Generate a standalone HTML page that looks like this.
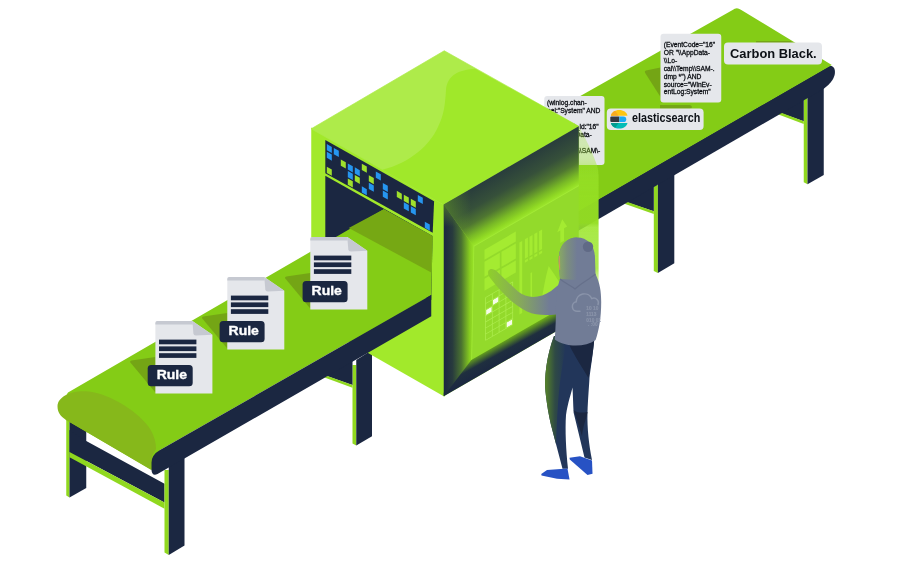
<!DOCTYPE html>
<html><head><meta charset="utf-8"><title>Rule conversion</title>
<style>html,body{margin:0;padding:0;background:#fff}svg{display:block;will-change:transform}</style></head>
<body>
<svg width="921" height="561" viewBox="0 0 921 561">
<rect width="921" height="561" fill="#ffffff"/>
<defs>
<linearGradient id="gLeftBevel" x1="443.75" y1="0" x2="473" y2="0" gradientUnits="userSpaceOnUse">
 <stop offset="0" stop-color="#1b2741"/><stop offset="0.3" stop-color="#283b3d"/><stop offset="0.6" stop-color="#4a7230"/><stop offset="0.88" stop-color="#86cb20"/><stop offset="1" stop-color="#96e026"/>
</linearGradient>
<linearGradient id="gTopBevel" x1="500" y1="172" x2="525.6" y2="216.3" gradientUnits="userSpaceOnUse">
 <stop offset="0" stop-color="#293d3c"/><stop offset="0.35" stop-color="#36503a"/><stop offset="0.6" stop-color="#4f7631"/><stop offset="0.8" stop-color="#78b826"/><stop offset="0.93" stop-color="#90d924"/><stop offset="1" stop-color="#9ce62c"/>
</linearGradient>
<linearGradient id="gLeftBevelY" x1="0" y1="204" x2="0" y2="396" gradientUnits="userSpaceOnUse">
 <stop offset="0" stop-color="#6da51f" stop-opacity="0.55"/><stop offset="0.12" stop-color="#6da51f" stop-opacity="0"/><stop offset="1" stop-color="#6da51f" stop-opacity="0"/>
</linearGradient>
<linearGradient id="gBotBevel" x1="500" y1="365" x2="489" y2="345" gradientUnits="userSpaceOnUse">
 <stop offset="0" stop-color="#1b2741"/><stop offset="0.45" stop-color="#1f2f3f"/><stop offset="0.85" stop-color="#6aa81b"/><stop offset="1" stop-color="#93dc24"/>
</linearGradient>
<linearGradient id="gGlowV" x1="0" y1="126" x2="0" y2="292" gradientUnits="userSpaceOnUse">
 <stop offset="0" stop-color="#a4e834" stop-opacity="0.26"/><stop offset="0.2" stop-color="#a0e830" stop-opacity="0.38"/><stop offset="0.34" stop-color="#98e226" stop-opacity="0.78"/><stop offset="0.43" stop-color="#94de24" stop-opacity="0.97"/><stop offset="0.585" stop-color="#94de24" stop-opacity="0.97"/><stop offset="0.61" stop-color="#9ce62c" stop-opacity="0.88"/><stop offset="0.86" stop-color="#9ce62c" stop-opacity="0.82"/><stop offset="0.93" stop-color="#a0e830" stop-opacity="0.45"/><stop offset="0.985" stop-color="#a3ea35" stop-opacity="0"/>
</linearGradient>
<linearGradient id="gArm" x1="488" y1="0" x2="560" y2="0" gradientUnits="userSpaceOnUse">
 <stop offset="0" stop-color="#8fd02a"/><stop offset="0.45" stop-color="#86a85c"/><stop offset="0.85" stop-color="#717c96"/><stop offset="1" stop-color="#717c96"/>
</linearGradient>
<linearGradient id="gLegGlow" x1="544" y1="0" x2="566" y2="0" gradientUnits="userSpaceOnUse">
 <stop offset="0" stop-color="#5b8a25"/><stop offset="0.5" stop-color="#2f4a45"/><stop offset="1" stop-color="#22365a"/>
</linearGradient>
<linearGradient id="gHood" x1="557" y1="0" x2="577" y2="0" gradientUnits="userSpaceOnUse">
 <stop offset="0" stop-color="#8cb05c"/><stop offset="0.5" stop-color="#7b8e7e"/><stop offset="1" stop-color="#717c96"/>
</linearGradient>
<filter id="blur1" x="-20%" y="-5%" width="140%" height="110%"><feGaussianBlur stdDeviation="0.7"/></filter>
<linearGradient id="gTopBevelX" x1="444" y1="0" x2="579" y2="0" gradientUnits="userSpaceOnUse">
 <stop offset="0" stop-color="#6aa324" stop-opacity="0.55"/><stop offset="0.2" stop-color="#6aa324" stop-opacity="0"/><stop offset="1" stop-color="#6aa324" stop-opacity="0"/>
</linearGradient>
</defs>
<polygon points="803.75,95.00 807.50,95.00 807.50,184.30 803.75,182.30" fill="#90d81f" />
<polygon points="807.50,90.00 823.75,85.00 823.75,175.00 807.50,184.30" fill="#1b2741" />
<polygon points="780.50,111.50 803.75,96.00 803.75,121.25 781.25,113.20" fill="#1b2741" />
<polygon points="781.25,112.80 803.75,121.25 803.75,124.00 778.50,114.50" fill="#90d81f" />
<polygon points="653.80,185.00 657.90,185.00 657.90,273.10 653.80,271.00" fill="#90d81f" />
<polygon points="657.90,180.00 674.30,170.00 674.30,263.30 657.90,273.10" fill="#1b2741" />
<polygon points="626.80,200.50 653.80,184.00 653.80,211.25 627.50,202.50" fill="#1b2741" />
<polygon points="627.50,202.00 653.80,211.25 653.80,214.00 624.50,203.80" fill="#90d81f" />
<path d="M540 232.83 L828.8 66.2 C835.3 64.3,836.8 73,832.6 79.8 C830.4 83.2,827 86.5,823.75 88.75 L540 253.04 Z" fill="#1b2741"/>
<path d="M540 118.8 L732.6 10.1 Q736.6 6.5 740.9 9.8 L831.8 65 L540 233.13 Z" fill="#84cc16"/>
<path d="M646 70.5 L660.5 67.5 L660.5 97 L645.5 73.5 Q644 71 646 70.5Z" fill="#74a515"/>
<path d="M660 105 L690 105 Q694 107 690 108.8 L660 108.8Z" fill="#74a515"/>
<path d="M756 41 L790.5 41 L795 43.6 L756 43.6Z" fill="#74a515"/>
<rect x="544.25" y="96" width="60.25" height="69" rx="3" fill="#e5e7eb"/>
<g font-family="Liberation Sans, sans-serif" font-size="6.70" fill="#0a0d12" stroke="#0a0d12" stroke-width="0.28"><text x="547.00" y="104.70">(winlog.chan-</text><text x="547.00" y="112.70">nel:&quot;System&quot; AND</text></g>
<g font-family="Liberation Sans, sans-serif" font-size="6.7" fill="#0a0d12" stroke="#0a0d12" stroke-width="0.28" text-anchor="end"><text x="598.7" y="128.6">log.event_id:&quot;16&quot;</text><text x="591.8" y="136.7">OR &quot;\\AppData-</text><text x="600.3" y="153.2">\\SAM\-</text></g>
<rect x="660.5" y="33.75" width="60.75" height="68.75" rx="3" fill="#e5e7eb"/>
<g font-family="Liberation Sans, sans-serif" font-size="6.70" fill="#0a0d12" stroke="#0a0d12" stroke-width="0.28"><text x="663.75" y="47.00">(EventCode=&quot;16&quot;</text><text x="663.75" y="54.90">OR &quot;\\AppData-</text><text x="663.75" y="62.80">\\Lo-</text><text x="663.75" y="70.70">cal\\Temp\\SAM-.</text><text x="663.75" y="78.60">dmp *&quot;) AND</text><text x="663.75" y="86.50">source=&quot;WinEv-</text><text x="663.75" y="94.40">entLog:System&quot;</text></g>
<rect x="724" y="42.4" width="98" height="22.1" rx="4" fill="#e5e7eb"/>
<text x="730" y="58.4" font-family="Liberation Sans, sans-serif" font-weight="bold" font-size="13.1" fill="#0c1016" textLength="86.7" lengthAdjust="spacingAndGlyphs">Carbon Black.</text>
<rect x="606.8" y="108.5" width="96.8" height="21.5" rx="4" fill="#e5e7eb"/>
<g>
<path d="M610.9 115.7 C611.6 112.4,615 110.1,619.2 110.1 C623.4 110.1,626.8 112.4,627.5 115.7 Z" fill="#fec514"/>
<path d="M610.9 115.7 C611.4 113.4,613 111.6,615.2 110.8 L618.6 115.7 Z" fill="#f7a922"/>
<path d="M611.4 116.4 H619.4 V122.1 H611.4 Q610.3 122.1 610.3 121 V117.5 Q610.3 116.4 611.4 116.4Z" fill="#343741"/>
<path d="M619.4 116.4 H623.4 A2.85 2.85 0 0 1 623.4 122.1 H619.4Z" fill="#1ba9f5"/>
<path d="M610.9 122.9 C611.6 126.2,615 128.5,619.2 128.5 C623.4 128.5,626.8 126.2,627.5 122.9 Z" fill="#02bcb7"/>
<path d="M610.9 122.9 C611.4 125.2,613 127,615.2 127.8 L618.6 122.9 Z" fill="#019b8f"/>
</g>
<text x="632" y="121.6" font-family="Liberation Sans, sans-serif" font-weight="bold" font-size="12" fill="#0c1016" textLength="68.3" lengthAdjust="spacingAndGlyphs">elasticsearch</text>
<polygon points="66.25,418.00 69.50,420.00 69.50,497.50 66.25,495.60" fill="#90d81f" />
<polygon points="69.50,420.00 86.25,430.00 86.25,488.00 69.50,497.50" fill="#1b2741" />
<polygon points="69.50,430.00 86.25,441.00 164.50,483.75 164.50,502.50 69.50,452.00" fill="#1b2741" />
<polygon points="69.50,452.00 164.50,502.50 164.50,508.80 69.50,457.30" fill="#90d81f" />
<polygon points="164.50,470.00 168.75,470.00 168.75,555.00 164.50,552.50" fill="#90d81f" />
<polygon points="168.75,465.00 184.50,455.00 184.50,545.50 168.75,555.00" fill="#1b2741" />
<polygon points="352.50,365.00 356.25,365.00 356.25,445.50 352.50,443.60" fill="#90d81f" />
<polygon points="356.25,360.00 372.00,350.00 372.00,436.25 356.25,445.50" fill="#1b2741" />
<polygon points="326.80,374.30 352.50,358.00 352.50,385.00 327.50,376.25" fill="#1b2741" />
<polygon points="327.50,376.00 352.50,385.00 352.50,387.80 324.50,377.60" fill="#90d81f" />
<polygon points="311.25,127.60 444.60,203.40 444.60,396.70 311.25,320.50" fill="#a2e92b" />
<polygon points="325.30,140.10 434.10,201.20 432.70,232.70 325.30,173.30" fill="#1b2741" />
<polygon points="325.30,175.75 432.60,236.00 431.25,300.00 325.30,250.00" fill="#1b2741" />
<polygon points="326.80,144.10 331.80,146.90 331.80,153.10 326.80,150.30" fill="#2696f0" />
<polygon points="333.80,148.02 338.80,150.82 338.80,157.02 333.80,154.22" fill="#2696f0" />
<polygon points="326.80,151.65 331.80,154.45 331.80,160.65 326.80,157.85" fill="#2696f0" />
<polygon points="340.80,159.49 345.80,162.29 345.80,168.49 340.80,165.69" fill="#9fe02c" />
<polygon points="326.80,166.75 331.80,169.55 331.80,175.75 326.80,172.95" fill="#9fe02c" />
<polygon points="347.80,163.41 352.80,166.21 352.80,172.41 347.80,169.61" fill="#2696f0" />
<polygon points="347.80,170.96 352.80,173.76 352.80,179.96 347.80,177.16" fill="#2696f0" />
<polygon points="347.80,178.51 352.80,181.31 352.80,187.51 347.80,184.71" fill="#9fe02c" />
<polygon points="354.80,167.33 359.80,170.13 359.80,176.33 354.80,173.53" fill="#2696f0" />
<polygon points="354.80,174.88 359.80,177.68 359.80,183.88 354.80,181.08" fill="#9fe02c" />
<polygon points="361.80,163.70 366.80,166.50 366.80,172.70 361.80,169.90" fill="#9fe02c" />
<polygon points="361.80,186.35 366.80,189.15 366.80,195.35 361.80,192.55" fill="#2696f0" />
<polygon points="368.80,175.17 373.80,177.97 373.80,184.17 368.80,181.37" fill="#9fe02c" />
<polygon points="368.80,182.72 373.80,185.52 373.80,191.72 368.80,188.92" fill="#2696f0" />
<polygon points="375.80,171.54 380.80,174.34 380.80,180.54 375.80,177.74" fill="#2696f0" />
<polygon points="382.80,183.01 387.80,185.81 387.80,192.01 382.80,189.21" fill="#2696f0" />
<polygon points="382.80,190.56 387.80,193.36 387.80,199.56 382.80,196.76" fill="#2696f0" />
<polygon points="396.80,190.85 401.80,193.65 401.80,199.85 396.80,197.05" fill="#9fe02c" />
<polygon points="403.80,194.77 408.80,197.57 408.80,203.77 403.80,200.97" fill="#9fe02c" />
<polygon points="403.80,202.32 408.80,205.12 408.80,211.32 403.80,208.52" fill="#2696f0" />
<polygon points="410.80,198.69 415.80,201.49 415.80,207.69 410.80,204.89" fill="#9fe02c" />
<polygon points="410.80,206.24 415.80,209.04 415.80,215.24 410.80,212.44" fill="#2696f0" />
<polygon points="417.80,195.06 422.80,197.86 422.80,204.06 417.80,201.26" fill="#2696f0" />
<polygon points="424.80,221.63 429.80,224.43 429.80,230.63 424.80,227.83" fill="#2696f0" />
<path d="M68 392.5 L383.75 209.25 L432.6 236.3 L431.25 295 L160 450 L152 470 L66 420 L58 408 Z" fill="#84cc16"/>
<polygon points="383.75,209.25 432.60,236.30 431.25,272.50 348.75,228.00" fill="#76a814" />
<path d="M57.5 406 C58 397,70 391,85 391.25 C106 392,135 409,148 426 C154 434,156 442,156 449 L152 456 L151.25 470 L66.25 420 C60 416,57.5 412,57.5 406 Z" fill="#86b81b"/>
<path d="M431.25 295 L160 450 Q151.3 455 151.5 463 L151.5 470 Q152 476.5 157.5 474 L431.25 316.25 Z" fill="#1b2741"/>
<g transform="translate(310.30,237.00)"><path d="M-24 39.5 L0 36 L0 71.6 L-25 41.5 Q-26 39.8 -24 39.5Z" fill="#74a515"/><path d="M0 2 Q0 0 2 0 L37 0 L57 13.7 L57 72.5 L0 72.5Z" fill="#e5e7eb"/><path d="M0 3.5 L0 2 Q0 0 2 0 L37 0 L37.5 3.5Z" fill="#c6c9d1"/><path d="M37 0 L57 13.7 L40.5 14.6 Q38.2 14.6 38 12.5Z" fill="#c6c9d1"/><rect x="3.6" y="18.6" width="37.4" height="4.7" fill="#1b2741"/><rect x="3.6" y="25.4" width="37.4" height="4.7" fill="#1b2741"/><rect x="3.6" y="32.2" width="37.4" height="4.7" fill="#1b2741"/><rect x="-7.7" y="44" width="45" height="21.2" rx="3.5" fill="#1b2741"/><text x="1.3" y="58.4" font-family="Liberation Sans, sans-serif" font-weight="bold" font-size="13" fill="#fff" stroke="#fff" stroke-width="0.35" textLength="30.3" lengthAdjust="spacingAndGlyphs">Rule</text></g>
<g transform="translate(227.30,277.00)"><path d="M-24 39.5 L0 36 L0 71.6 L-25 41.5 Q-26 39.8 -24 39.5Z" fill="#74a515"/><path d="M0 2 Q0 0 2 0 L37 0 L57 13.7 L57 72.5 L0 72.5Z" fill="#e5e7eb"/><path d="M0 3.5 L0 2 Q0 0 2 0 L37 0 L37.5 3.5Z" fill="#c6c9d1"/><path d="M37 0 L57 13.7 L40.5 14.6 Q38.2 14.6 38 12.5Z" fill="#c6c9d1"/><rect x="3.6" y="18.6" width="37.4" height="4.7" fill="#1b2741"/><rect x="3.6" y="25.4" width="37.4" height="4.7" fill="#1b2741"/><rect x="3.6" y="32.2" width="37.4" height="4.7" fill="#1b2741"/><rect x="-7.7" y="44" width="45" height="21.2" rx="3.5" fill="#1b2741"/><text x="1.3" y="58.4" font-family="Liberation Sans, sans-serif" font-weight="bold" font-size="13" fill="#fff" stroke="#fff" stroke-width="0.35" textLength="30.3" lengthAdjust="spacingAndGlyphs">Rule</text></g>
<g transform="translate(155.40,321.00)"><path d="M-24 39.5 L0 36 L0 71.6 L-25 41.5 Q-26 39.8 -24 39.5Z" fill="#74a515"/><path d="M0 2 Q0 0 2 0 L37 0 L57 13.7 L57 72.5 L0 72.5Z" fill="#e5e7eb"/><path d="M0 3.5 L0 2 Q0 0 2 0 L37 0 L37.5 3.5Z" fill="#c6c9d1"/><path d="M37 0 L57 13.7 L40.5 14.6 Q38.2 14.6 38 12.5Z" fill="#c6c9d1"/><rect x="3.6" y="18.6" width="37.4" height="4.7" fill="#1b2741"/><rect x="3.6" y="25.4" width="37.4" height="4.7" fill="#1b2741"/><rect x="3.6" y="32.2" width="37.4" height="4.7" fill="#1b2741"/><rect x="-7.7" y="44" width="45" height="21.2" rx="3.5" fill="#1b2741"/><text x="1.3" y="58.4" font-family="Liberation Sans, sans-serif" font-weight="bold" font-size="13" fill="#fff" stroke="#fff" stroke-width="0.35" textLength="30.3" lengthAdjust="spacingAndGlyphs">Rule</text></g>
<polygon points="444.25,50.75 578.75,126.25 443.50,204.50 311.25,128.75" fill="#aeeb4a" stroke="#aeeb4a" stroke-width="0.7" stroke-linejoin="round"/>
<path d="M475 68.75 C455 70,447 78,446 90 C445 105,444 115,438 127 C430 145,410 163,382.5 169.7 L443.5 204.5 L578.75 126.25 Z" fill="#a0e82a"/>
<path d="M576 126.2 L578.8 126.2 C582 132,592 150,596.7 164.6 Q598.6 170 598.6 176 L598.6 292 L576 292 Z" fill="url(#gGlowV)" filter="url(#blur1)"/>
<polygon points="443.75,204.50 578.75,126.25 578.75,318.30 443.75,396.25" fill="#93da2b" />
<g transform="matrix(1,-0.577,0,1,473.5,246)" fill="#a4eb31"><rect x="11" y="10" width="31.3" height="10"/><rect x="11.0" y="22.0" width="15.3" height="15.0"/><rect x="11.0" y="39.0" width="15.3" height="12.0"/><rect x="28.0" y="22.0" width="14.3" height="15.0"/><rect x="28.0" y="39.0" width="14.3" height="12.0"/><rect x="19.50" y="65.20" width="5.4" height="5.0" fill="#f6fce8"/><rect x="12.70" y="71.30" width="5.4" height="5.0" fill="#f6fce8"/><rect x="33.10" y="95.70" width="5.4" height="5.0" fill="#f6fce8"/><path d="M12.00 58.50 V101.20 M18.80 58.50 V101.20 M25.60 58.50 V101.20 M32.40 58.50 V101.20 M39.20 58.50 V101.20 M12.00 58.50 H39.20 M12.00 64.60 H39.20 M12.00 70.70 H39.20 M12.00 76.80 H39.20 M12.00 82.90 H39.20 M12.00 89.00 H39.20 M12.00 95.10 H39.20 M12.00 101.20 H39.20 " fill="none" stroke="#acec4c" stroke-width="0.8"/><rect x="45.9" y="23" width="2.8" height="72"/><rect x="51.4" y="23" width="3" height="19.5"/><rect x="51.4" y="44" width="3" height="2.5"/><rect x="56.0" y="23" width="3" height="19.5"/><rect x="56.0" y="44" width="3" height="2.5"/><rect x="60.8" y="23" width="3" height="19.5"/><rect x="60.8" y="44" width="3" height="2.5"/><rect x="65.6" y="23" width="3" height="19.5"/><rect x="65.6" y="44" width="3" height="2.5"/><rect x="57" y="60" width="1.6" height="40"/><path d="M88.7 24.5 L93.6 34.5 L90.6 34.5 L90.6 47 L86.8 47 L86.8 34.5 L83.8 34.5Z"/><path d="M75.3 63.4 C77 68,84 80,92 100 L67 100 C69 88,72 72,75.3 63.4Z"/></g>
<path d="M471.25 360 L473.5 246 L578.75 185.3" fill="none" stroke="#a6ee38" stroke-width="1.6" stroke-opacity="0.8"/>
<polygon points="443.75,204.50 578.75,126.25 578.75,185.30 473.50,246.00" fill="url(#gTopBevel)" />
<polygon points="443.75,204.50 578.75,126.25 578.75,185.30 473.50,246.00" fill="url(#gTopBevelX)" />
<polygon points="443.75,396.25 443.75,392.80 469.80,358.40 471.25,360.00 578.75,298.00 578.75,318.30" fill="url(#gBotBevel)" />
<polygon points="443.75,204.50 473.50,246.00 471.25,360.00 443.75,396.25" fill="url(#gLeftBevel)" />
<polygon points="443.75,204.50 473.50,246.00 471.25,360.00 443.75,396.25" fill="url(#gLeftBevelY)" />
<path d="M554 336 C546.5 356,544 378,545.5 392 C547 406,549 416,551 425 L562.5 468.75 L568 468.75 C566 450,565 430,566 415 C568 402,571 394,572.5 387.5 C573 396,573.2 405,573.6 412.5 L584.5 457.5 L592 460 C589 445,587 428,587.5 412.5 C588 398,589 388,589.5 377.5 C591 366,593 354,594.6 336 Z" fill="#22365a"/>
<path d="M554 336 C546.5 356,544 378,545.5 392 C547 406,549 416,551 425 L556 444 C557 420,558 395,561 375 L567 336Z" fill="url(#gLegGlow)"/>
<path d="M567 340 C572 352,580 364,588.5 378 C590.5 366,593 354,594.4 338Z" fill="#1b2741"/>
<path d="M573.7 410 C577 413,581 413,587.5 412 C586 420,583 426,582 436Z" fill="#1b2741"/>
<path d="M541.25 474 L547 470 L567.5 468.5 L569.5 479.5 L557 478.8 L541.5 475.5Z" fill="#2752c4"/>
<path d="M569.5 457.8 L580 456.2 L592 460.5 L592.5 473.8 L587.5 475 L569.8 459.5Z" fill="#2752c4"/>
<path d="M488.5 270.5 C490 268,494 268.5,497 271.5 L518 291.5 C527 299,540 298.5,551 291 L562 282 L566 313 C552 315.5,538 316.5,527 311.5 C513 304.5,500 291,491 279 C488 275.5,487.5 272.5,488.5 270.5Z" fill="url(#gArm)"/>
<path d="M558.75 262 C558 246,566 237.5,577 237.5 C588 237.5,595 246,595 258 L595.5 274 C600 283,601.2 292,601.2 302 C601.2 318,599 330,595.6 340 C585 347.5,566 347.5,554.8 339.5 C555.5 328,556 318,556 308 C556 296,557.5 286,560 279 Z" fill="#717c96"/>
<path d="M558.75 262 C558 246,566 237.5,577 237.5 L577 280 L560 279Z" fill="url(#gHood)"/>
<circle cx="588" cy="246.75" r="5.2" fill="#606a86"/>
<path d="M560 279 C566 284,572 286,575 289 C580 284,588 280,595.5 274" fill="none" stroke="#66708b" stroke-width="1.2"/>
<path d="M580 311.3 L577.3 311.3 A4.8 4.8 0 0 1 576.2 301.8 A8.2 8.2 0 0 1 591.8 298.6 A4.6 4.6 0 0 1 598 304.6" fill="none" stroke="#8a94aa" stroke-width="1.5" stroke-linecap="round"/>
<g font-family="Liberation Sans, sans-serif" font-weight="bold" font-size="4.8" fill="#8a94aa" stroke="#8a94aa" stroke-width="0.15"><text x="586.3" y="310.4">10 10</text><text x="586.3" y="316.4">1113</text><text x="586.3" y="321.8">010 01</text><text x="588" y="326.2">. :00</text></g>
<path d="M559 256 C558.4 260,558.5 266,559.6 270 L560.2 270 L560 256Z" fill="#d9925f" fill-opacity="0.8"/>
</svg>
</body></html>
